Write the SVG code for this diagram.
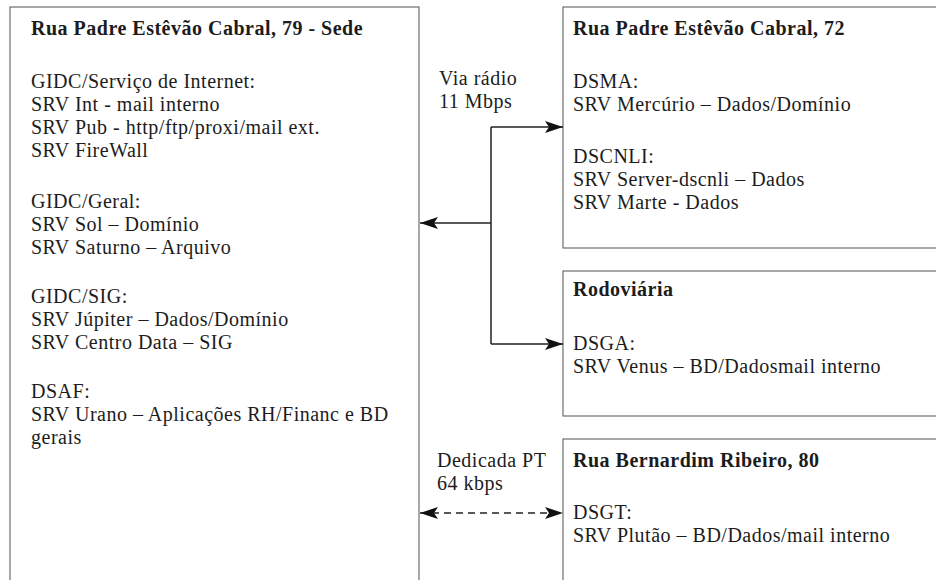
<svg xmlns="http://www.w3.org/2000/svg" width="936" height="580" viewBox="0 0 936 580">
  <style>
    .box { fill: #ffffff; stroke: #616161; stroke-width: 1.1; }
    .t { font-family: "Liberation Serif", "Times New Roman", serif; font-size: 20px; letter-spacing: 0.5px; fill: #1c1c1c; }
    .b { font-weight: bold; }
    .link { fill: none; stroke: #222222; stroke-width: 1.5; }
    .dash { stroke-dasharray: 7 5; }
  </style>
  <defs>
    <marker id="arrow" viewBox="0 0 18 12" refX="18" refY="6" markerWidth="18" markerHeight="12" markerUnits="userSpaceOnUse" orient="auto-start-reverse">
      <path d="M0,0 L18,6 L0,12 L4,6 Z" fill="#111111"/>
    </marker>
  </defs>
  <rect width="936" height="580" fill="#ffffff"/>

  <g id="sede">
    <rect class="box" x="10" y="7" width="409" height="590"/>
    <text class="t b" x="31" y="35">Rua Padre Estêvão Cabral, 79 - Sede</text>
    <text class="t" x="31" y="88">GIDC/Serviço de Internet:</text>
    <text class="t" x="31" y="111">SRV Int - mail interno</text>
    <text class="t" x="31" y="134">SRV Pub - http/ftp/proxi/mail ext.</text>
    <text class="t" x="31" y="157">SRV FireWall</text>
    <text class="t" x="31" y="208">GIDC/Geral:</text>
    <text class="t" x="31" y="231">SRV Sol – Domínio</text>
    <text class="t" x="31" y="254">SRV Saturno – Arquivo</text>
    <text class="t" x="31" y="303">GIDC/SIG:</text>
    <text class="t" x="31" y="326">SRV Júpiter – Dados/Domínio</text>
    <text class="t" x="31" y="349">SRV Centro Data – SIG</text>
    <text class="t" x="31" y="398">DSAF:</text>
    <text class="t" x="31" y="421">SRV Urano – Aplicações RH/Financ e BD</text>
    <text class="t" x="31" y="444">gerais</text>
  </g>

  <g id="cabral72">
    <rect class="box" x="563" y="7" width="400" height="241"/>
    <text class="t b" x="573" y="35">Rua Padre Estêvão Cabral, 72</text>
    <text class="t" x="573" y="88">DSMA:</text>
    <text class="t" x="573" y="111">SRV Mercúrio – Dados/Domínio</text>
    <text class="t" x="573" y="163">DSCNLI:</text>
    <text class="t" x="573" y="186">SRV Server-dscnli – Dados</text>
    <text class="t" x="573" y="209">SRV Marte - Dados</text>
  </g>

  <g id="rodoviaria">
    <rect class="box" x="563" y="271" width="400" height="145"/>
    <text class="t b" x="573" y="296">Rodoviária</text>
    <text class="t" x="573" y="350">DSGA:</text>
    <text class="t" x="573" y="373">SRV Venus – BD/Dadosmail interno</text>
  </g>

  <g id="bernardim">
    <rect class="box" x="563" y="439" width="400" height="160"/>
    <text class="t b" x="573" y="467">Rua Bernardim Ribeiro, 80</text>
    <text class="t" x="573" y="519">DSGT:</text>
    <text class="t" x="573" y="542">SRV Plutão – BD/Dados/mail interno</text>
  </g>

  <g id="labels">
    <text class="t" x="439" y="85">Via rádio</text>
    <text class="t" x="439" y="108">11 Mbps</text>
    <text class="t" x="437" y="467">Dedicada PT</text>
    <text class="t" x="437" y="490">64 kbps</text>
  </g>

  <g id="connectors">
    <path class="link" d="M491,127 L491,344"/>
    <path class="link" d="M491,127 L563,127" marker-end="url(#arrow)"/>
    <path class="link" d="M491,344 L563,344" marker-end="url(#arrow)"/>
    <path class="link" d="M491,223 L420,223" marker-end="url(#arrow)"/>
    <path class="link dash" d="M420,513 L563,513" marker-start="url(#arrow)" marker-end="url(#arrow)"/>
  </g>
</svg>
